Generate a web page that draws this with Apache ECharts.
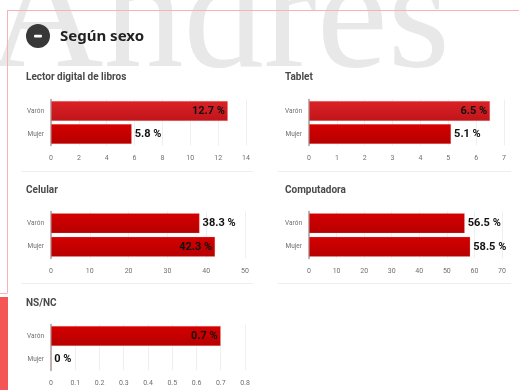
<!DOCTYPE html>
<html>
<head>
<meta charset="utf-8">
<script src="https://cdn.jsdelivr.net/npm/echarts@6/dist/echarts.min.js"></script>
<style>
  html, body { margin: 0; padding: 0; background: #fff; }
  #chart { width: 519px; height: 390px; }
</style>
</head>
<body>
<div id="chart"></div>
<script>
// Device ownership by sex, one small horizontal bar chart per device
const categories = ['Varón', 'Mujer'];
const panelTitles = ['Lector digital de libros', 'Tablet', 'Celular', 'Computadora', 'NS/NC'];
const lectorValues = [12.7, 5.8];
const tabletValues = [6.5, 5.1];
const celularValues = [38.3, 42.3];
const computadoraValues = [56.5, 58.5];
const nsncValues = [0.7, 0];
const axisMax = [14, 7, 50, 70, 0.8];
const axisInterval = [2, 1, 10, 10, 0.1];
const sectionTitle = 'Según sexo';
const watermarkText = 'Andres';

const panelValues = [lectorValues, tabletValues, celularValues, computadoraValues, nsncValues];

// Panel geometry (grid boxes) and label placement
const panelBoxes = [
  { left: 51, top: 99.5, width: 195, height: 46, titleX: 26, titleY: 76 },
  { left: 309, top: 99.5, width: 195, height: 46, titleX: 285, titleY: 76 },
  { left: 51, top: 211.5, width: 194, height: 47, titleX: 26, titleY: 189 },
  { left: 309, top: 211.5, width: 193, height: 47, titleX: 285, titleY: 189 },
  { left: 51, top: 324.5, width: 194, height: 46, titleX: 26, titleY: 302 }
];
const labelInside = [[true, false], [true, false], [false, true], [false, false], [true, false]];
const lightVaron = [true, true, false, false, false];

function barGradient(light) {
  const top = light ? '#da2226' : '#d40000';
  const bottom = light ? '#c0151a' : '#b60000';
  return new echarts.graphic.LinearGradient(0, 0, 0, 1, [
    { offset: 0, color: top }, { offset: 1, color: bottom }
  ]);
}

const grids = [], xAxes = [], yAxes = [], series = [];
const graphics = [];

// watermark
graphics.push({
  type: 'text', left: -12, top: -56, z: -10, silent: true,
  style: { text: watermarkText, font: '160px "Liberation Serif"', fill: '#e8e8e8' }
});
// frame guides
graphics.push({ type: 'line', shape: { x1: 8, y1: 10.5, x2: 519, y2: 10.5 }, style: { stroke: '#f7b3b3', lineWidth: 1 }, z: -5 });
graphics.push({ type: 'line', shape: { x1: 7.5, y1: 10, x2: 7.5, y2: 293 }, style: { stroke: '#f7b3b3', lineWidth: 1 }, z: -5 });
graphics.push({ type: 'line', shape: { x1: 0, y1: 293.5, x2: 7.5, y2: 293.5 }, style: { stroke: '#f7b3b3', lineWidth: 1 }, z: -5 });
graphics.push({ type: 'rect', shape: { x: 0, y: 297, width: 8, height: 93 }, style: { fill: '#f45656' }, z: -5 });
// section heading with collapse icon
graphics.push({ type: 'circle', shape: { cx: 38, cy: 36, r: 12 }, style: { fill: '#383838' } });
graphics.push({ type: 'rect', shape: { x: 34, y: 34.8, width: 8, height: 2.6, r: 1 }, style: { fill: '#fff' }, z: 10 });
graphics.push({
  type: 'text', left: 60, top: 29.5,
  style: { text: sectionTitle, font: 'bold 15px "Noto Sans"', fill: '#222' }
});
// separators between rows
[[21, 253, 171.5], [278, 511, 171.5], [21, 253, 283.5], [278, 511, 283.5]].forEach(s => {
  graphics.push({ type: 'line', shape: { x1: s[0], y1: s[2], x2: s[1], y2: s[2] }, style: { stroke: '#eeeeee', lineWidth: 1 } });
});

panelBoxes.forEach((b, i) => {
  graphics.push({
    type: 'text', left: b.titleX, top: b.titleY - 4,
    style: { text: panelTitles[i], font: 'bold 10px Roboto', fill: '#4a4a4a' }
  });
  grids.push({ left: b.left, top: b.top, width: b.width, height: b.height, containLabel: false });
  xAxes.push({
    type: 'value', gridIndex: i, min: 0, max: axisMax[i], interval: axisInterval[i],
    axisLine: { show: false }, axisTick: { show: false },
    splitLine: { show: true, lineStyle: { color: '#efefef', width: 1 } },
    axisLabel: { fontSize: 7, color: '#6f6f6f', fontFamily: 'Roboto', margin: 9 }
  });
  yAxes.push({
    type: 'category', gridIndex: i, data: categories, inverse: true,
    axisLine: { show: true, lineStyle: { color: '#a0a0a0', width: 1.5 } },
    axisTick: { show: false },
    axisLabel: { fontSize: 6.5, color: '#6f6f6f', fontFamily: 'Roboto', margin: 7 }
  });
  series.push({
    type: 'bar', xAxisIndex: i, yAxisIndex: i, barWidth: 20,
    data: panelValues[i].map((v, j) => ({
      value: v,
      itemStyle: { color: barGradient(j === 0 && lightVaron[i]), borderColor: 'rgba(255,160,160,0.35)', borderWidth: 0.6 },
      label: {
        show: true,
        position: labelInside[i][j] ? 'insideRight' : 'right',
        distance: 3,
        formatter: p => p.value + ' %',
        fontSize: 11, fontWeight: 'bold', fontFamily: 'Roboto',
        color: '#111'
      }
    }))
  });
});

const chart = echarts.init(document.getElementById('chart'), null, { renderer: 'canvas' });
chart.setOption({
  animation: false,
  backgroundColor: '#fff',
  grid: grids,
  xAxis: xAxes,
  yAxis: yAxes,
  series: series,
  graphic: graphics
});
</script>
</body>
</html>
